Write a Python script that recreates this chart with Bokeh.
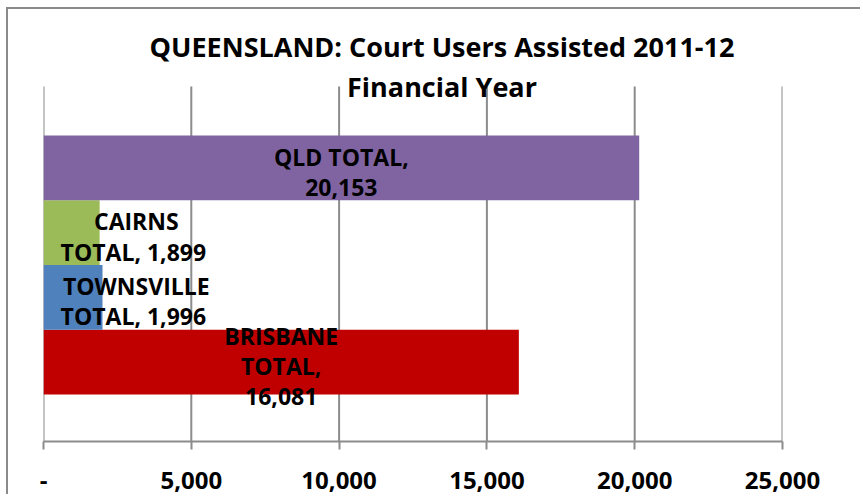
from bokeh.plotting import figure
from bokeh.models import Range1d, FixedTicker, NumeralTickFormatter, ColumnDataSource
from bokeh.core.properties import value
from bokeh.embed import file_html
from bokeh.resources import INLINE

# ---- data ----
names = ["BRISBANE", "TOWNSVILLE", "CAIRNS", "QLD"]
totals = [16081, 1996, 1899, 20153]
colors = ["#C00000", "#4F81BD", "#9BBB59", "#8064A2"]
label_templates = ["{n}\nTOTAL,\n{v}", "{n}\nTOTAL,  {v}", "{n}\nTOTAL,  {v}", "{n} TOTAL,\n{v}"]
x_ticks = [0, 5000, 10000, 15000, 20000, 25000]
title_lines = ["QUEENSLAND: Court Users Assisted 2011-12", "Financial Year"]

FONT = "Open Sans"
GRID = "#8C8C8C"

# ---- layout geometry (pixels) ----
W, H = 854, 487
FRAME_LEFT, FRAME_RIGHT, FRAME_BOTTOM = 35, 774, 432
PX_PER_BAR = 64.75
Y_LO = -0.226
Y_HI = Y_LO + FRAME_BOTTOM / PX_PER_BAR
GRID_TOP = Y_LO + (FRAME_BOTTOM - 77) / PX_PER_BAR

ypos = [i + 1 for i in range(len(names))]
label_text = [t.format(n=n, v=f"{v:,}") for t, n, v in zip(label_templates, names, totals)]
label_x = [max(v / 2, 3140) for v in totals]
label_y = [y - 0.06 for y in ypos]

src = ColumnDataSource(dict(y=ypos, v=totals, c=colors, t=label_text, lx=label_x, ly=label_y))

p = figure(width=W, height=H, output_backend="svg", toolbar_location=None,
           x_range=Range1d(0, 25000), y_range=Range1d(Y_LO, Y_HI),
           min_border_left=FRAME_LEFT, min_border_right=W - FRAME_RIGHT,
           min_border_top=0, min_border_bottom=H - FRAME_BOTTOM)
p.styles = {"margin-left": "6px", "margin-top": "7px",
            "border-left": "2px solid #8A8A8A", "border-top": "2px solid #8A8A8A"}
p.outline_line_color = None
p.background_fill_color = "white"
p.border_fill_color = "white"

# vertical gridlines (stop below the title, as in the original)
p.segment(x0=x_ticks, x1=x_ticks, y0=[Y_LO] * len(x_ticks), y1=[GRID_TOP] * len(x_ticks),
          line_color=GRID, line_width=2)

p.hbar(y="y", left=0, right="v", height=1.0, fill_color="c", line_color=None, source=src)

p.text(x="lx", y="ly", text="t", source=src, text_align="center", text_baseline="middle",
       text_font=value(FONT), text_font_style="bold", text_font_size="23px",
       text_color="black", text_line_height=0.95)

# title
title_x = 13480
title_y = [Y_LO + (FRAME_BOTTOM - 37) / PX_PER_BAR, Y_LO + (FRAME_BOTTOM - 77) / PX_PER_BAR]
p.text(x=[title_x, title_x], y=title_y, text=title_lines, text_align="center",
       text_baseline="middle", text_font=value(FONT), text_font_style="bold",
       text_font_size="27px", text_color="black")

p.yaxis.visible = False
p.grid.visible = False
xa = p.xaxis[0]
xa.ticker = FixedTicker(ticks=x_ticks)
xa.formatter = NumeralTickFormatter(format="0,0")
xa.major_label_overrides = {0: "-"}
xa.axis_line_color = GRID
xa.axis_line_width = 2
xa.major_tick_line_color = GRID
xa.major_tick_line_width = 2
xa.major_tick_in = 0
xa.major_tick_out = 8
xa.minor_tick_line_color = None
xa.major_label_standoff = 22
xa.major_label_text_font = FONT
xa.major_label_text_font_style = "bold"
xa.major_label_text_font_size = "24px"
xa.major_label_text_color = "black"

open("out.html", "w").write(file_html(p, INLINE))
